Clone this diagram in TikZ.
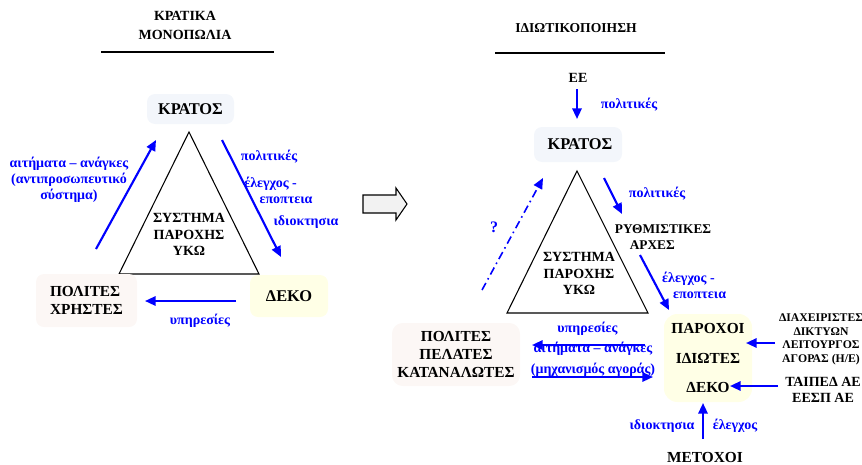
\documentclass[tikz,border=0pt]{standalone}
\usepackage{fontspec}
\setmainfont{Liberation Serif}
\usetikzlibrary{arrows.meta}
\definecolor{bl}{RGB}{0,0,255}
\definecolor{kfill}{RGB}{243,246,251}
\definecolor{pfill}{RGB}{252,247,245}
\definecolor{yfill}{RGB}{255,255,230}
\definecolor{afill}{RGB}{242,242,242}
\begin{document}
\begin{tikzpicture}[x=0.75pt,y=-0.75pt,
  lbl/.style={font=\fontsize{10.5}{14}\selectfont\bfseries, align=center, inner sep=0pt},
  blu/.style={text=bl, font=\fontsize{10.5}{11.8}\selectfont\bfseries, align=center, inner sep=0pt},
  boxn/.style={rounded corners=6pt, inner sep=0pt, align=center, font=\fontsize{11.5}{13.5}\selectfont\bfseries},
  barrow/.style={draw=bl, line width=1.6pt, -{Triangle[length=8pt,width=7pt]}},
  darrow/.style={draw=bl, line width=1.2pt, dash pattern=on 6pt off 3pt on 1.2pt off 3pt, -{Triangle[length=8pt,width=7pt]}},
  tri/.style={draw=black, line width=0.8pt}
]
\useasboundingbox (0,0) rectangle (862,464);

% ---------------- left part ----------------
\node[lbl, font=\fontsize{10.5}{14.2}\selectfont\bfseries] (t1) at (185,25.5) {ΚΡΑΤΙΚΑ\\ΜΟΝΟΠΩΛΙΑ};
\draw[line width=0.8pt] (101,52) -- (274,52);

\node[boxn, fill=kfill, minimum width=65.25pt, minimum height=22.5pt, font=\fontsize{12.3}{14}\selectfont\bfseries] (k1) at (190.5,109) {ΚΡΑΤΟΣ};
\draw[tri] (189,132) -- (119,274) -- (259,274) -- cycle;
\node[lbl, font=\fontsize{10.5}{12.4}\selectfont\bfseries] (s1) at (189,234.5) {ΣΥΣΤΗΜΑ\\ΠΑΡΟΧΗΣ\\ΥΚΩ};

\node[boxn, fill=pfill, minimum width=75.75pt, minimum height=39.75pt, align=left] (p1) at (86.5,300.5) {ΠΟΛΙΤΕΣ\\ΧΡΗΣΤΕΣ};
\node[boxn, fill=yfill, minimum width=58.5pt, minimum height=31.5pt, font=\fontsize{12.3}{14}\selectfont\bfseries] (d1) at (289,296) {ΔΕΚΟ};

\coordinate (a1s) at (96,249);  \coordinate (a1e) at (156,140);
\draw[barrow] (a1s) -- (a1e);
\node[blu] (l1) at (69,180) {αιτήματα – ανάγκες\\(αντιπροσωπευτικό\\σύστημα)};

\coordinate (a2s) at (222,140); \coordinate (a2e) at (281,257);
\draw[barrow] (a2s) -- (a2e);
\node[blu] (l2) at (269,157) {πολιτικές};
\node[blu] (l3) at (279,190.5) {\hspace*{-1.2em}έλεγχος -\\\hspace*{1em}εποπτεια};
\node[blu] (l4) at (306,222) {ιδιοκτησια};

\coordinate (a3s) at (236,301); \coordinate (a3e) at (145,301);
\draw[barrow] (a3s) -- (a3e);
\node[blu] (l5) at (200,321) {υπηρεσίες};

% block arrow
\draw[fill=afill, line width=0.8pt] (363,195) -- (396,195) -- (396,188) -- (407,204) -- (396,220) -- (396,213) -- (363,213) -- cycle;

% ---------------- right part ----------------
\node[lbl, font=\fontsize{10.2}{12}\selectfont\bfseries] (t2) at (576,28) {ΙΔΙΩΤΙΚΟΠΟΙΗΣΗ};
\draw[line width=0.8pt] (495,53) -- (665,53);

\node[lbl] (ee) at (578,78) {ΕΕ};
\coordinate (b1s) at (577,89); \coordinate (b1e) at (577,119);
\draw[barrow] (b1s) -- (b1e);
\node[blu] (m1) at (629,105) {πολιτικές};

\node[boxn, fill=kfill, minimum width=66pt, minimum height=26.25pt, font=\fontsize{12.3}{14}\selectfont\bfseries] (k2) at (578,144.5) {\raisebox{-2.6pt}{\hspace*{3pt}ΚΡΑΤΟΣ}};

\draw[tri] (577,171) -- (507,313) -- (648,313) -- cycle;
\node[lbl, font=\fontsize{10.5}{12.4}\selectfont\bfseries] (s2) at (579,273.5) {ΣΥΣΤΗΜΑ\\ΠΑΡΟΧΗΣ\\ΥΚΩ};

\coordinate (b2s) at (604,178); \coordinate (b2e) at (622,214);
\draw[barrow] (b2s) -- (b2e);
\node[blu] (m2) at (657,194) {πολιτικές};

\node[lbl, font=\fontsize{10}{12}\selectfont\bfseries] (r2) at (663,237) {ΡΥΘΜΙΣΤΙΚΕΣ\\ΑΡΧΕΣ\hspace*{1.6em}};

\coordinate (b3s) at (640,255); \coordinate (b3e) at (669,310);
\draw[barrow] (b3s) -- (b3e);
\node[blu] (m3) at (694,285) {\hspace*{-0.8em}έλεγχος -\\\hspace*{0.8em}εποπτεια};

\node[boxn, fill=yfill, rounded corners=10pt, minimum width=66pt, minimum height=66pt, font=\fontsize{11.5}{22}\selectfont\bfseries] (pr) at (708,358) {ΠΑΡΟΧΟΙ\\ΙΔΙΩΤΕΣ\\ΔΕΚΟ};

\node[boxn, fill=pfill, rounded corners=8pt, minimum width=96pt, minimum height=47.25pt] (pp) at (456,354.5) {ΠΟΛΙΤΕΣ\\ΠΕΛΑΤΕΣ\\ΚΑΤΑΝΑΛΩΤΕΣ};

\coordinate (b4s) at (645,345); \coordinate (b4e) at (532,345);
\draw[barrow] (b4s) -- (b4e);
\node[blu] (m4) at (587.5,329) {υπηρεσίες};
\node[blu, font=\fontsize{10.5}{16}\selectfont\bfseries] (m5) at (593,359) {αιτήματα – ανάγκες\\(μηχανισμός αγοράς)};
\coordinate (b5s) at (532,377); \coordinate (b5e) at (653,377);
\draw[barrow] (b5s) -- (b5e);

\node[lbl, font=\fontsize{8.8}{10.3}\selectfont\bfseries] (dx) at (821,339.5) {ΔΙΑΧΕΙΡΙΣΤΕΣ\\ΔΙΚΤΥΩΝ\\ΛΕΙΤΟΥΡΓΟΣ\\ΑΓΟΡΑΣ (Η/Ε)};
\coordinate (b6s) at (775,343); \coordinate (b6e) at (746,343);
\draw[barrow] (b6s) -- (b6e);

\node[lbl, font=\fontsize{10.5}{12}\selectfont\bfseries] (tp) at (823,390) {ΤΑΙΠΕΔ ΑΕ\\ΕΕΣΠ ΑΕ};
\coordinate (b7s) at (778,386); \coordinate (b7e) at (730,386);
\draw[barrow] (b7s) -- (b7e);

\node[lbl, font=\fontsize{11.5}{14}\selectfont\bfseries] (mt) at (705,457) {ΜΕΤΟΧΟΙ};
\coordinate (b8s) at (703,439); \coordinate (b8e) at (703,403);
\draw[barrow] (b8s) -- (b8e);
\node[blu] (m6) at (662,426) {ιδιοκτησια};
\node[blu] (m7) at (735,426) {έλεγχος};

\coordinate (b9s) at (482,290); \coordinate (b9e) at (543,178);
\draw[darrow] (b9s) -- (b9e);
\node[blu, font=\fontsize{12}{14}\selectfont\bfseries] (q) at (494,227) {?};
\end{tikzpicture}
\end{document}
